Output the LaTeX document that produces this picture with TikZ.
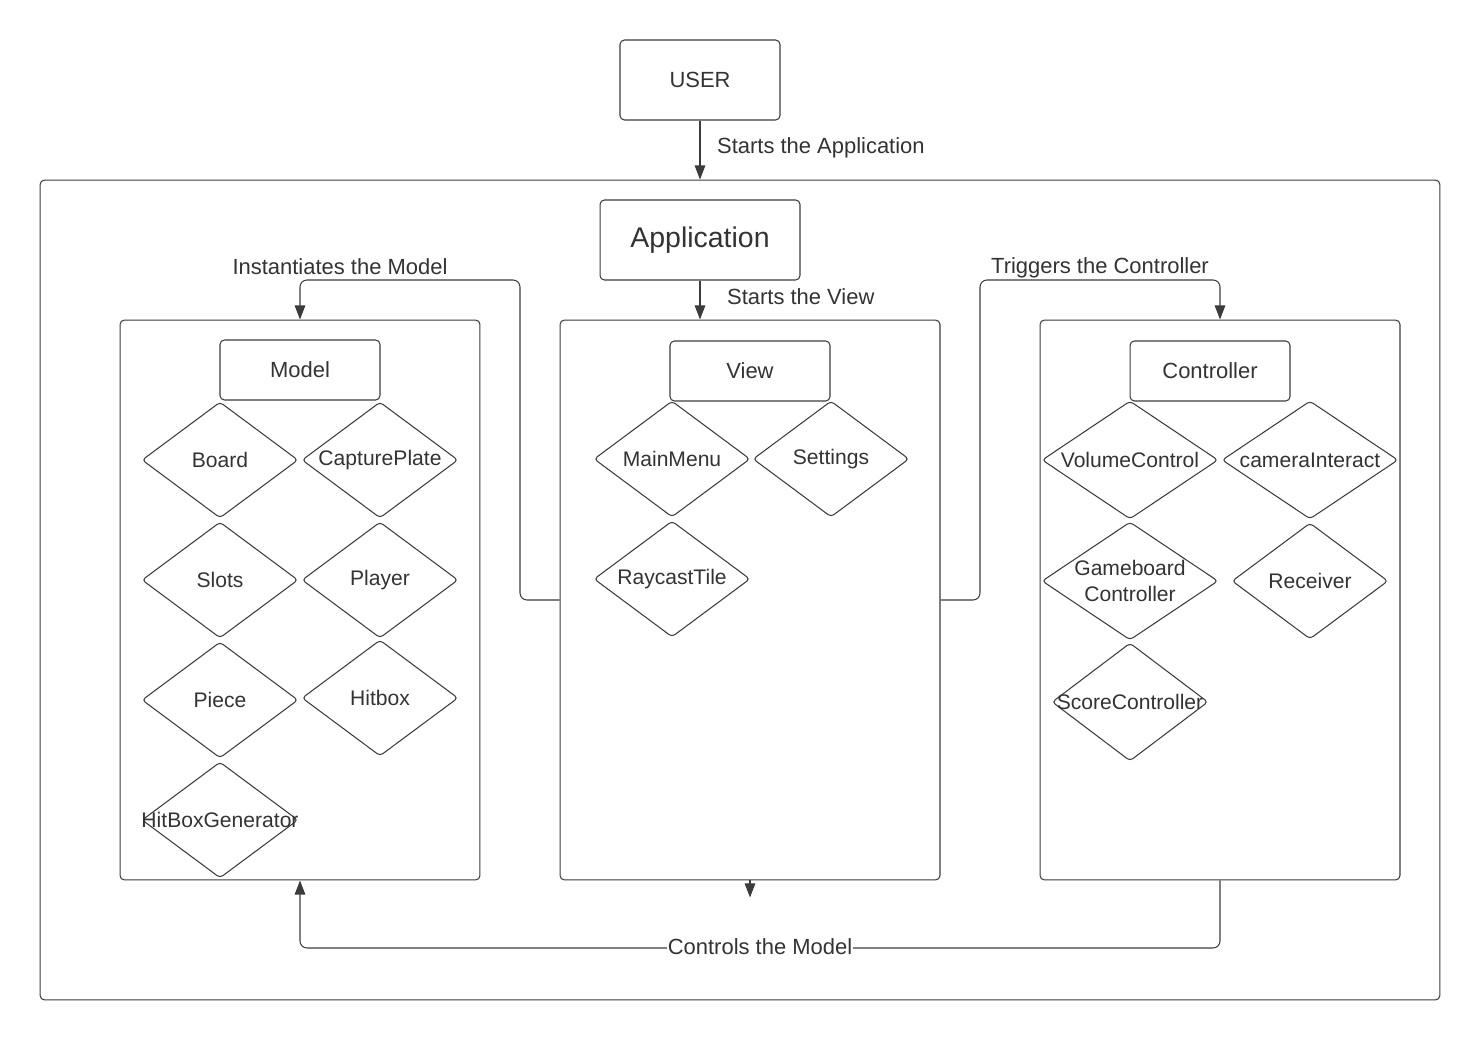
\documentclass[tikz,border=0pt]{standalone}
\usepackage{fontspec}
\setmainfont{Liberation Sans}
\usetikzlibrary{shapes.geometric,arrows.meta}
\definecolor{linegray}{HTML}{3C3C3C}
\definecolor{textgray}{HTML}{333333}
\tikzset{
  box/.style={draw=linegray, line width=0.6pt, rounded corners=2.5pt, inner sep=0pt, text=textgray},
  part/.style={diamond, draw=linegray, line width=0.6pt, rounded corners=2pt, inner sep=0pt,
    minimum width=3.12cm, minimum height=2.32cm,
    label={[partlbl]center:#1}},
  partlbl/.style={text=textgray, font=\fontsize{12}{15}\selectfont, align=center, inner sep=0pt},
  wide/.style={minimum width=3.52cm, minimum height=2.36cm},
  arr/.style={draw=linegray, line width=0.6pt, -{Triangle[length=8pt,width=6pt]}},
  lbl/.style={text=textgray, font=\fontsize{12.5}{15}\selectfont, inner sep=1pt}
}
\begin{document}
\begin{tikzpicture}[x=0.02cm, y=-0.02cm]
  \useasboundingbox (0,0) rectangle (1480,1040);
  {\fontsize{12.5}{15}\selectfont

  % Outer frame of the application
  \node [box, minimum width=28cm, minimum height=16.4cm] (frame) at (740,590) {};%

  % User and application
  \node [box, minimum width=3.2cm, minimum height=1.6cm] (user) at (700,80) {USER};%
  \node [box, minimum width=4cm, minimum height=1.6cm, font=\fontsize{16.2}{19}\selectfont] (app) at (700,240) {Application};%

  % Containers
  \node [box, minimum width=7.2cm, minimum height=11.2cm] (model) at (300,600) {};%
  \node [box, minimum width=7.6cm, minimum height=11.2cm] (view) at (750,600) {};%
  \node [box, minimum width=7.2cm, minimum height=11.2cm] (ctrl) at (1220,600) {};%

  % Titles of the containers
  \node [box, minimum width=3.2cm, minimum height=1.2cm] (modeltitle) at (300,370) {Model};%
  \node [box, minimum width=3.2cm, minimum height=1.2cm] (viewtitle) at (750,371) {View};%
  \node [box, minimum width=3.2cm, minimum height=1.2cm] (ctrltitle) at (1210,371) {Controller};%

  % Model parts
  \node [part=Board] (board) at (220,460) {};%
  \node [part=CapturePlate] (plate) at (380,460) {};%
  \node [part=Slots] (slots) at (220,580) {};%
  \node [part=Player] (player) at (380,580) {};%
  \node [part=Piece] (piece) at (220,700) {};%
  \node [part=Hitbox] (hitbox) at (380,698) {};%
  \node [part=HitBoxGenerator] (hitgen) at (220,820) {};%

  % View parts
  \node [part=MainMenu] (menu) at (672,459) {};%
  \node [part=Settings] (settings) at (831,459) {};%
  \node [part=RaycastTile] (raycast) at (672,579) {};%

  % Controller parts
  \node [part=VolumeControl, wide] (volume) at (1130,460) {};%
  \node [part=cameraInteract, wide] (camera) at (1310,460) {};%
  \node [part={Gameboard\\Controller}, wide] (gameboard) at (1130,581) {};%
  \node [part=Receiver] (receiver) at (1310,581) {};%
  \node [part=ScoreController, minimum height=2.36cm] (score) at (1130,702) {};%

  % Drawing line USER frame
  \draw [arr] (user.south) -- (user.south |- frame.north);%
  \node [lbl, anchor=west] (startapp) at (715,148) {Starts the Application};%

  % Drawing line app view
  \draw [arr] (app.south) -- (app.south |- view.north);%
  \node [lbl, anchor=west] (startview) at (725,297) {Starts the View};%

  % Drawing line view model
  \draw [arr, rounded corners=4pt] (view.west) -- (520,600) |- (300,280) -- (model.north);%
  \node [lbl] (inst) at (340,267) {Instantiates the Model};%

  % Drawing line view controller
  \draw [arr, rounded corners=4pt] (view.east) -- (980,600) |- (1220,280) -- (ctrl.north);%
  \node [lbl] (trig) at (1100,268) {Triggers the Controller};%

  % Arrow below the view
  \draw [arr] (view.south) -- ++(0,17);%

  % Drawing line controller model
  \draw [arr, rounded corners=4pt] (ctrl.south) -- (1220,948) -| (model.south);%
  \node [lbl, fill=white, inner sep=0.5pt] (ctrlmodel) at (760,947) {Controls the Model};%
  }
\end{tikzpicture}
\end{document}
